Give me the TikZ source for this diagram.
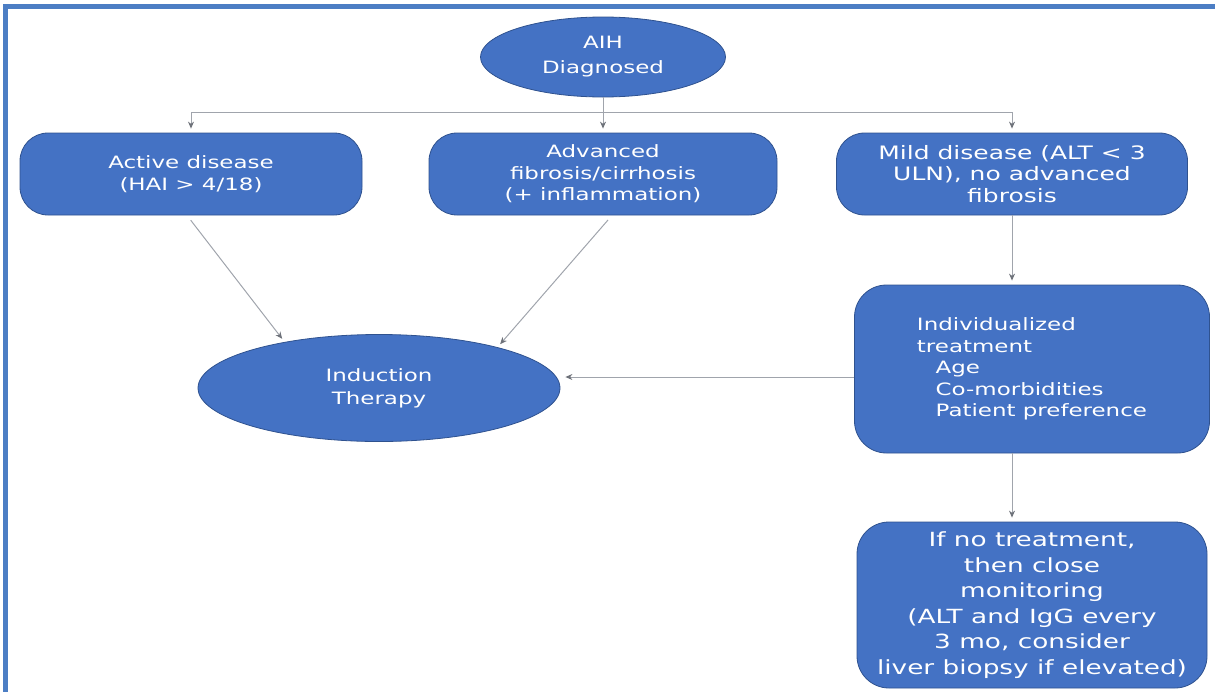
\documentclass[tikz,border=0pt]{standalone}
\usepackage{fontspec}
\newfontfamily\flowfont{DejaVu Sans}[FakeStretch=1.35]
\usetikzlibrary{shapes.geometric, arrows.meta}
\definecolor{boxblue}{RGB}{68,114,196}
\definecolor{boxedge}{RGB}{47,82,143}
\definecolor{framecol}{RGB}{76,126,196}
\definecolor{linkgray}{RGB}{160,164,172}
\definecolor{tipgray}{RGB}{110,114,122}
\tikzset{
  flowtxt/.style={text=white, font=\flowfont\fontsize{17}{21.5}\selectfont, align=center},
  oval/.style={flowtxt, ellipse, fill=boxblue, draw=boxedge, line width=0.8pt, inner sep=0pt},
  card/.style={flowtxt, rectangle, rounded corners=28pt, fill=boxblue, draw=boxedge, line width=0.8pt, inner sep=0pt},
  link/.style={draw=linkgray, line width=1pt, -{Stealth[length=7pt,width=6pt,color=tipgray]}, shorten >=4pt}
}
\begin{document}
\begin{tikzpicture}[x=1pt,y=-1pt]
\useasboundingbox (0,0) rectangle (1215,691);
\draw [framecol, line width=4.5pt] (1225,6.5) -- (5.5,6.5) -- (5.5,700);
\node [oval, minimum width=245pt, minimum height=80pt, font=\flowfont\fontsize{17}{25}\selectfont] (aih) at (603,57) {AIH\\Diagnosed};
\node [card, minimum width=342pt, minimum height=82pt] (active) at (191,174) {Active disease\\(HAI > 4/18)};
\node [card, minimum width=348pt, minimum height=82pt] (fibro) at (603,174) {Advanced\\fibrosis/cirrhosis\\(+ inflammation)};
\node [card, minimum width=351pt, minimum height=82pt, font=\flowfont\fontsize{18.5}{21.5}\selectfont] (mild) at (1012,174) {Mild disease (ALT < 3\\ULN), no advanced\\fibrosis};
\node [oval, minimum width=362pt, minimum height=107pt, font=\flowfont\fontsize{17}{23}\selectfont] (induct) at (379,388) {Induction\\Therapy};
\node [card, rounded corners=32pt, minimum width=355pt, minimum height=168pt, align=left] (indiv) at (1032,369)
  {Individualized\\treatment\\\hspace*{1.1em}Age\\\hspace*{1.1em}Co-morbidities\\\hspace*{1.1em}Patient preference};
\node [card, rounded corners=32pt, minimum width=350pt, minimum height=166pt, font=\flowfont\fontsize{19.5}{25.5}\selectfont] (monitor) at (1032,605)
  {If no treatment,\\then close\\monitoring\\(ALT and IgG every\\3 mo, consider\\liver biopsy if elevated)};
% links
\coordinate (bus) at (603,112);
\draw [linkgray, line width=1pt] (aih.south) -- (bus);
\draw [link] (bus) -| (active.north);
\draw [link] (bus) -- (fibro.north);
\draw [link] (bus) -| (mild.north);
\draw [link, shorten <=6pt] ([xshift=-4pt]active.south) -- (induct.154);
\draw [link, shorten <=6pt] ([xshift=9pt]fibro.south) -- (induct.19);
\draw [link, shorten >=5pt] ([yshift=-8pt]indiv.west) -- ([yshift=11pt]induct.east);
\draw [link] (mild.south) -- (mild.south |- indiv.north);
\draw [link] (mild.south |- indiv.south) -- (mild.south |- monitor.north);
\end{tikzpicture}
\end{document}
